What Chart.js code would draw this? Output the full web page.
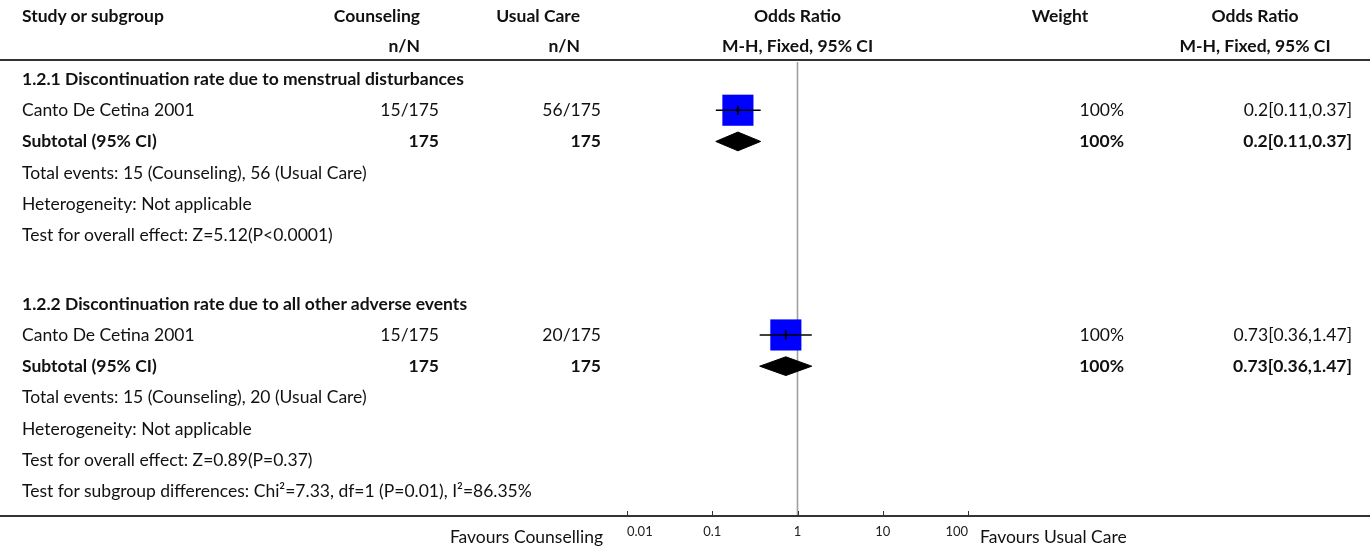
<!DOCTYPE html>
<html>
<head>
<meta charset="utf-8">
<script src="https://cdn.jsdelivr.net/npm/chart.js@4/dist/chart.umd.min.js"></script>
<style>
  body { margin: 0; background: #fff; }
  #wrap { position: relative; width: 1370px; height: 548px; font-family: Lato, "Noto Sans", sans-serif; color: #111; }
  #plot { position: absolute; left: 0; top: 0; }
  .t { position: absolute; white-space: nowrap; font-size: 17.5px; line-height: 1; }
  .b { font-weight: bold; }
  .rule { position: absolute; left: 0; width: 1370px; height: 2px; background: #333; }
</style>
</head>
<body>
<div id="wrap">
  <canvas id="plot" width="1370" height="548"></canvas>
  <div class="rule" style="top:59px"></div>
  <div class="rule" style="top:515px"></div>
</div>
<script>
const subgroupTitles = [
  "1.2.1 Discontinuation rate due to menstrual disturbances",
  "1.2.2 Discontinuation rate due to all other adverse events"
];
const studyNames = ["Canto De Cetina 2001", "Canto De Cetina 2001"];
const counselEvents = [15, 15];
const counselTotal = [175, 175];
const careEvents = [56, 20];
const careTotal = [175, 175];
const oddsRatios = [0.2, 0.73];
const ciLower = [0.11, 0.36];
const ciUpper = [0.37, 1.47];
const studyWeights = [100, 100];
const heterogeneity = ["Not applicable", "Not applicable"];
const overallEffect = ["Z=5.12(P<0.0001)", "Z=0.89(P=0.37)"];
const subgroupTest = "Chi\u00b2=7.33, df=1 (P=0.01), I\u00b2=86.35%";
const axisTicks = [0.01, 0.1, 1, 10, 100];
const favourLabels = ["Favours Counselling", "Favours Usual Care"];

// row layout (one unit = one table line)
const groupStep = 7.2;
const rowOf = (g, k) => g * groupStep + k;
const lastRow = 14;
const topRow = -0.545;

const datasets = [];

// line of no effect
datasets.push({
  data: [{ x: 1, y: topRow }, { x: 1, y: lastRow }],
  showLine: true, borderColor: "#a0a0a0", borderWidth: 1.6, pointRadius: 0, order: 5
});

studyNames.forEach((s, g) => {
  const r = rowOf(g, 1);
  // whisker
  datasets.push({
    data: [{ x: ciLower[g], y: r }, { x: ciUpper[g], y: r }],
    showLine: true, borderColor: "#000", borderWidth: 1.5, pointRadius: 0, order: 0
  });
  // subtotal diamond
  const d = rowOf(g, 2);
  datasets.push({
    data: [
      { x: ciLower[g], y: d }, { x: oddsRatios[g], y: d - 0.3 },
      { x: ciUpper[g], y: d }, { x: oddsRatios[g], y: d + 0.3 },
      { x: ciLower[g], y: d }
    ],
    showLine: true, fill: "shape", backgroundColor: "#000", borderColor: "#000",
    borderWidth: 1, pointRadius: 0, tension: 0, order: 1
  });
});

// weight squares
datasets.push({
  data: studyNames.map((s, g) => ({ x: oddsRatios[g], y: rowOf(g, 1) })),
  pointStyle: "rect",
  pointRadius: studyWeights.map(w => 22 * Math.sqrt(w / 100)),
  backgroundColor: "#0000ff", borderWidth: 0, order: 2
});
// point estimate marks
datasets.push({
  data: studyNames.map((s, g) => ({ x: oddsRatios[g], y: rowOf(g, 1) })),
  pointStyle: "line", pointRotation: 90, pointRadius: 4.5,
  pointBorderColor: "#000", pointBorderWidth: 2, order: 0
});

const tickMarks = {
  id: "tickMarks",
  afterDraw(chart) {
    const { ctx, scales: { x }, chartArea } = chart;
    ctx.save();
    ctx.strokeStyle = "#333";
    ctx.lineWidth = 1;
    axisTicks.forEach(v => {
      const px = Math.round(x.getPixelForValue(v)) + 0.5;
      ctx.beginPath();
      ctx.moveTo(px, chartArea.bottom);
      ctx.lineTo(px, chartArea.bottom - 5);
      ctx.stroke();
    });
    ctx.restore();
  }
};

const chart = new Chart(document.getElementById("plot"), {
  type: "scatter",
  data: { datasets },
  options: {
    responsive: false,
    animation: false,
    events: [],
    layout: { padding: { left: 627, right: 402, top: 62, bottom: 0 } },
    plugins: { legend: { display: false }, tooltip: { enabled: false } },
    elements: { line: { tension: 0 } },
    scales: {
      x: {
        type: "logarithmic",
        min: 0.01, max: 100,
        grid: { display: false, drawTicks: false },
        border: { display: false },
        afterBuildTicks: s => { s.ticks = axisTicks.map(v => ({ value: v })); },
        afterFit: s => { s.height = 32; },
        ticks: {
          align: "inner", padding: 8, color: "#222",
          font: { family: "Lato", size: 13 },
          callback: v => String(v)
        }
      },
      y: {
        type: "linear", reverse: true, display: false,
        min: topRow, max: lastRow
      }
    }
  },
  plugins: [tickMarks]
});

// table text
const wrap = document.getElementById("wrap");
const yPx = r => chart.scales.y.getPixelForValue(r);
function put(text, x, y, align, bold) {
  const el = document.createElement("div");
  el.className = "t" + (bold ? " b" : "");
  el.textContent = text;
  el.style.top = y + "px";
  if (align === "right") { el.style.right = (1370 - x) + "px"; el.style.transform = "translateY(-50%)"; }
  else if (align === "center") { el.style.left = x + "px"; el.style.transform = "translate(-50%,-50%)"; }
  else { el.style.left = x + "px"; el.style.transform = "translateY(-50%)"; }
  wrap.appendChild(el);
}

const colStudy = 22, colCn = 439, colUc = 601, colW = 1124, colOr = 1352;
const orMid = chart.scales.x.getPixelForValue(1);

put("Study or subgroup", colStudy, 16, "left", true);
put("Counseling", 420, 16, "right", true);
put("n/N", 420, 46, "right", true);
put("Usual Care", 580, 16, "right", true);
put("n/N", 580, 46, "right", true);
put("Odds Ratio", orMid, 16, "center", true);
put("M-H, Fixed, 95% CI", orMid, 46, "center", true);
put("Weight", 1060, 16, "center", true);
put("Odds Ratio", 1255, 16, "center", true);
put("M-H, Fixed, 95% CI", 1255, 46, "center", true);

subgroupTitles.forEach((title, g) => {
  const est = `${oddsRatios[g]}[${ciLower[g]},${ciUpper[g]}]`;
  put(title, colStudy, yPx(rowOf(g, 0)), "left", true);
  const r1 = yPx(rowOf(g, 1));
  put(studyNames[g], colStudy, r1, "left", false);
  put(`${counselEvents[g]}/${counselTotal[g]}`, colCn, r1, "right", false);
  put(`${careEvents[g]}/${careTotal[g]}`, colUc, r1, "right", false);
  put(`${studyWeights[g]}%`, colW, r1, "right", false);
  put(est, colOr, r1, "right", false);
  const r2 = yPx(rowOf(g, 2));
  put("Subtotal (95% CI)", colStudy, r2, "left", true);
  put(String(counselTotal[g]), colCn, r2, "right", true);
  put(String(careTotal[g]), colUc, r2, "right", true);
  put(`${studyWeights[g]}%`, colW, r2, "right", true);
  put(est, colOr, r2, "right", true);
  put(`Total events: ${counselEvents[g]} (Counseling), ${careEvents[g]} (Usual Care)`, colStudy, yPx(rowOf(g, 3)), "left", false);
  put(`Heterogeneity: ${heterogeneity[g]}`, colStudy, yPx(rowOf(g, 4)), "left", false);
  put(`Test for overall effect: ${overallEffect[g]}`, colStudy, yPx(rowOf(g, 5)), "left", false);
});
put(`Test for subgroup differences: ${subgroupTest}`, colStudy, yPx(rowOf(1, 6)), "left", false);

put(favourLabels[0], 603, 537, "right", false);
put(favourLabels[1], 980, 537, "left", false);
</script>
</body>
</html>
